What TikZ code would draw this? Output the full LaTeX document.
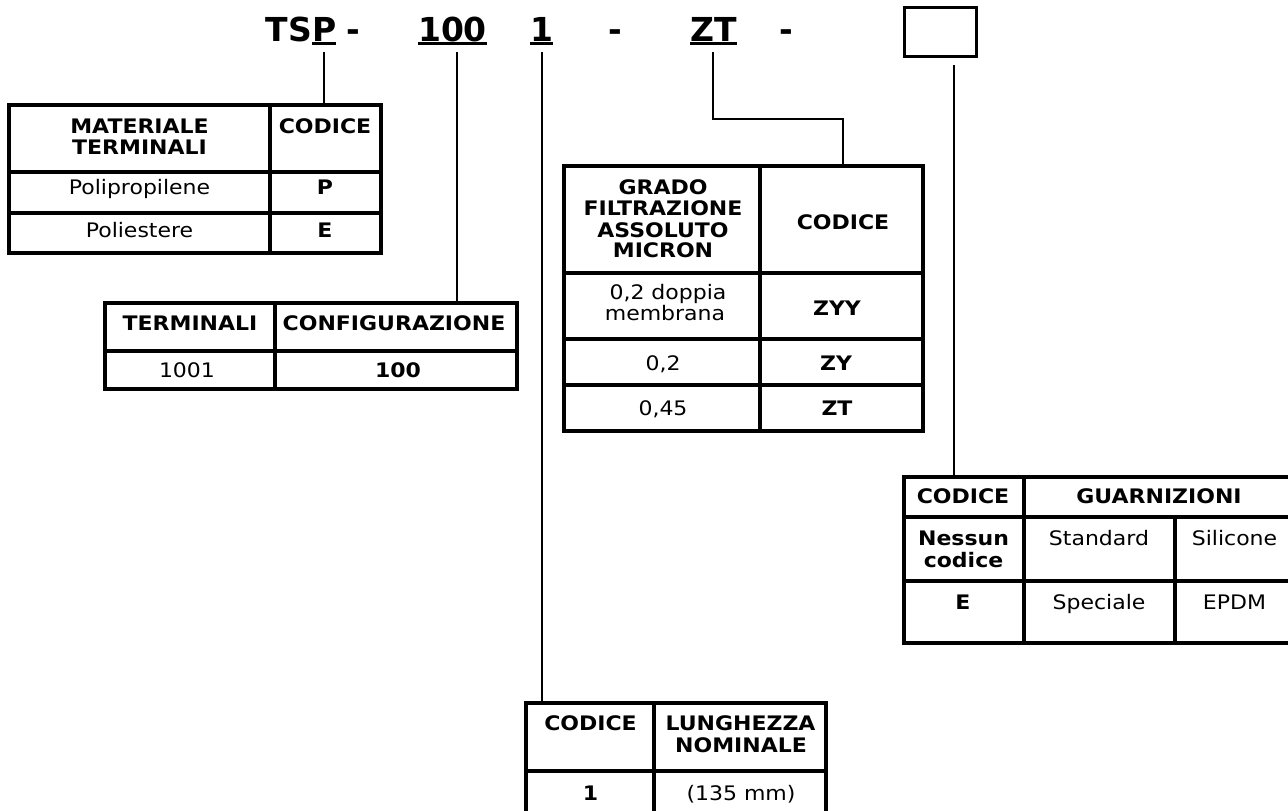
\documentclass[tikz,border=0pt]{standalone}
\usepackage{fontspec}
\setmainfont{DejaVu Sans}[FakeStretch=1.1]
\newfontfamily\titlefont{DejaVu Sans}
\begin{document}
\begin{tikzpicture}[x=1pt,y=-1pt,
  ttl/.style={anchor=base,inner sep=0pt,outer sep=0pt,font=\titlefont\fontsize{33}{36}\selectfont\bfseries},
  ul/.style={line width=2.8pt},
  conn/.style={line width=2.4pt},
  tbl/.style={line width=3.4pt},
  txt/.style={anchor=base,inner sep=0pt,outer sep=0pt,font=\fontsize{20}{22}\selectfont},
  btxt/.style={txt,font=\fontsize{20}{22}\selectfont\bfseries}]
\useasboundingbox (0,0) rectangle (1288,811);
\clip (0,0) rectangle (1288,811);

% ---------- title ----------
\node[ttl,anchor=base east] (tTS) at (312,41) {TS};
\node[ttl,anchor=base west] (tP) at (312,41) {P};
\node[ttl] (tD1) at (353,41) {-};
\node[ttl] (t100) at (452.5,41) {100};
\node[ttl] (t1) at (541.5,41) {1};
\node[ttl] (tD2) at (615.5,41) {-};
\node[ttl] (tZT) at (713.5,41) {ZT};
\node[ttl] (tD3) at (786.5,41) {-};
\node[draw,line width=3.4pt,minimum width=72pt,minimum height=49pt,inner sep=0pt] (tbox) at (940.5,32) {};
\foreach \n in {tP,t100,t1,tZT}
  \draw[ul] ([yshift=-2.8pt]\n.base west) -- ([yshift=-2.8pt]\n.base east);

% connector start points
\coordinate (sP) at (324,52);
\coordinate (s100) at (457,52);
\coordinate (s1) at (542,52);
\coordinate (sZT) at (713,52);
\coordinate (sbox) at (954,65);
% connector end points (table tops)
\coordinate (eP) at (324,105);
\coordinate (e100) at (457,303);
\coordinate (e1) at (542,703);
\coordinate (eZT) at (843,166);
\coordinate (ebox) at (954,477);

\draw[conn] (sP) -- (eP);
\draw[conn] (s100) -- (e100);
\draw[conn] (s1) -- (e1);
\draw[conn] (sZT) |- (843,119) -- (eZT);
\draw[conn] (sbox) -- (ebox);

% ---------- table 1 ----------
\draw[tbl] (9,105) rectangle (381,253);
\draw[tbl] (270,105) -- (270,253);
\draw[tbl] (9,172) -- (381,172);
\draw[tbl] (9,213) -- (381,213);
\node[btxt] (a1) at (139.5,133) {MATERIALE};
\node[btxt] (a2) at (139.5,154) {TERMINALI};
\node[btxt] (a3) at (325,133) {CODICE};
\node[txt]  (a4) at (139.5,194) {Polipropilene};
\node[btxt] (a5) at (325,194) {P};
\node[txt]  (a6) at (139.5,237) {Poliestere};
\node[btxt] (a7) at (325,237) {E};

% ---------- table 2 ----------
\draw[tbl] (105,303) rectangle (517,389);
\draw[tbl] (275,303) -- (275,389);
\draw[tbl] (105,351) -- (517,351);
\node[btxt] (b1) at (190,330) {TERMINALI};
\node[btxt] (b2) at (394,330) {CONFIGURAZIONE};
\node[txt]  (b3) at (187,377) {1001};
\node[btxt] (b4) at (398,377) {100};

% ---------- table 3 ----------
\draw[tbl] (564,166) rectangle (923,431);
\draw[tbl] (760,166) -- (760,431);
\draw[tbl] (564,273) -- (923,273);
\draw[tbl] (564,339) -- (923,339);
\draw[tbl] (564,385) -- (923,385);
\node[btxt] (c1) at (663,194) {GRADO};
\node[btxt] (c2) at (663,215) {FILTRAZIONE};
\node[btxt] (c3) at (663,237) {ASSOLUTO};
\node[btxt] (c4) at (663,257) {MICRON};
\node[btxt] (c5) at (843,229) {CODICE};
\node[txt]  (c6) at (668,299) {0,2 doppia};
\node[txt]  (c7) at (665,320) {membrana};
\node[btxt] (c8) at (837,315) {ZYY};
\node[txt]  (c9) at (663,370) {0,2};
\node[btxt] (c10) at (836,370) {ZY};
\node[txt]  (c11) at (663,415) {0,45};
\node[btxt] (c12) at (837,415) {ZT};

% ---------- table 4 ----------
\draw[tbl] (904,477) rectangle (1292,643);
\draw[tbl] (1024,477) -- (1024,643);
\draw[tbl] (1175,517) -- (1175,643);
\draw[tbl] (904,517) -- (1292,517);
\draw[tbl] (904,581) -- (1292,581);
\node[btxt] (d1) at (963,503) {CODICE};
\node[btxt] (d2) at (1159,503) {GUARNIZIONI};
\node[btxt] (d3) at (963.5,545) {Nessun};
\node[btxt] (d4) at (963.5,567) {codice};
\node[txt]  (d5) at (1099,545) {Standard};
\node[txt]  (d6) at (1234.5,545) {Silicone};
\node[btxt] (d7) at (963,609) {E};
\node[txt]  (d8) at (1099,609) {Speciale};
\node[txt]  (d9) at (1234.5,609) {EPDM};

% ---------- table 5 ----------
\draw[tbl] (526,830) -- (526,703) -- (826,703) -- (826,830);
\draw[tbl] (654,703) -- (654,830);
\draw[tbl] (526,771) -- (826,771);
\node[btxt] (f1) at (590.5,730) {CODICE};
\node[btxt] (f2) at (740.5,730) {LUNGHEZZA};
\node[btxt] (f3) at (741,752) {NOMINALE};
\node[btxt] (f4) at (590.5,800) {1};
\node[txt]  (f5) at (741,800) {(135 mm)};
\end{tikzpicture}
\end{document}
